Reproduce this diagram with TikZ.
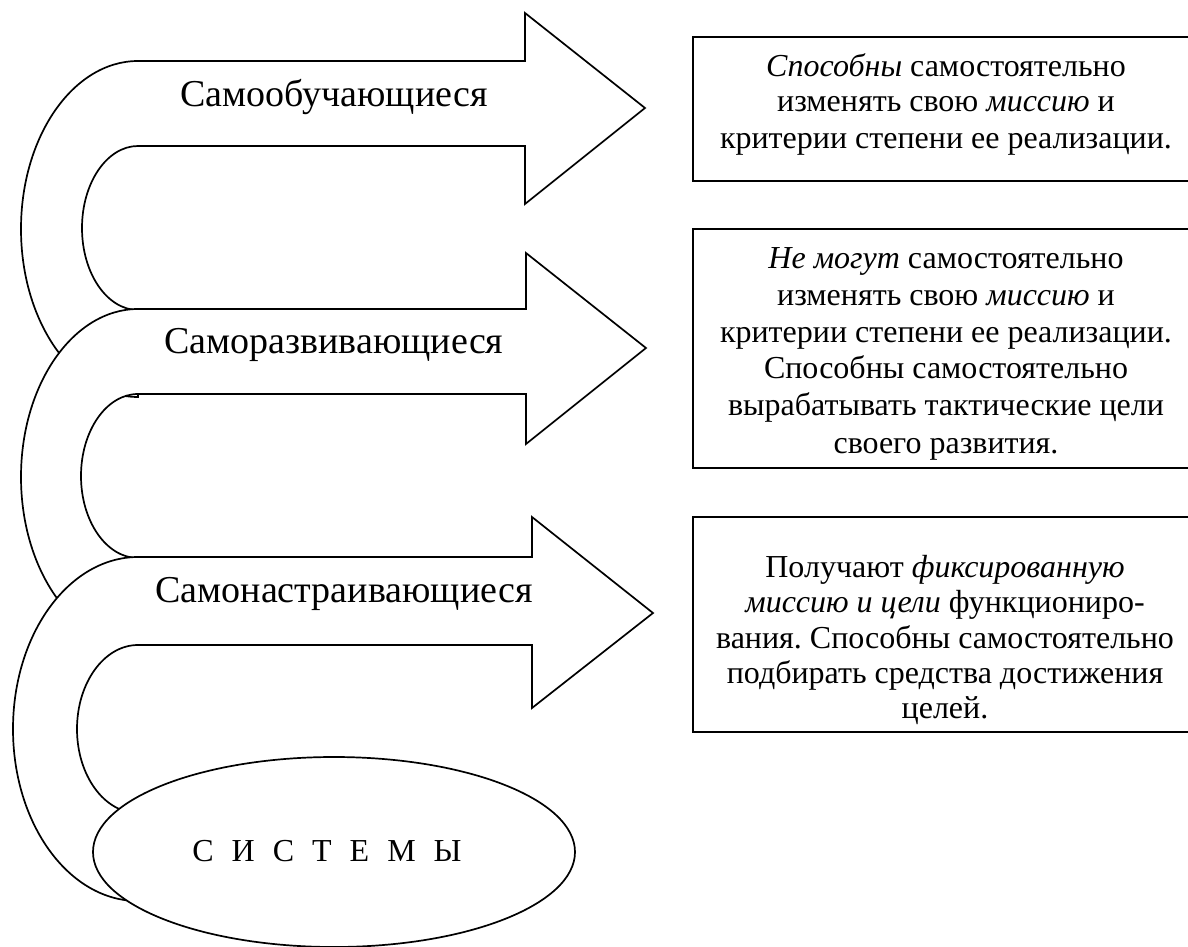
\documentclass[tikz,border=0pt]{standalone}
\usepackage{fontspec}
\setmainfont{Liberation Serif}
\frenchspacing
\begin{document}
\begin{tikzpicture}[x=1pt,y=1pt,
  uturn/.style={draw, fill=white, line width=1.7pt, line join=miter},
  boxline/.style={draw, line width=2pt},
  oval/.style={draw, fill=white, line width=1.7pt},
  lbl/.style={anchor=base, inner sep=0pt, font=\fontsize{38}{44}\selectfont},
  txt/.style={anchor=base, inner sep=0pt, font=\fontsize{32}{36}\selectfont}]
\clip (0,0) rectangle (1188,-947);
\fill[white] (0,0) rectangle (1188,-947);

% U-turn arrows, drawn from top to bottom so that each one covers the tail of the one above
\draw[uturn] (138,-397) arc[start angle=270, end angle=90, x radius=117, y radius=168]
  -- (525,-61) -- (525,-13) -- (645,-108) -- (525,-204) -- (525,-146) -- (138,-146)
  arc[start angle=90, end angle=270, x radius=56, y radius=82] -- cycle;
\node[lbl] (l1) at (334,-107) {Самообучающиеся};

\draw[uturn] (138,-645) arc[start angle=270, end angle=90, x radius=117, y radius=168]
  -- (526,-309) -- (526,-253) -- (646,-348) -- (526,-444) -- (526,-394) -- (138,-394)
  arc[start angle=90, end angle=270, x radius=57, y radius=82] -- cycle;
\node[lbl] (l2) at (334,-353) {Саморазвивающиеся};

\draw[uturn] (138,-901) arc[start angle=270, end angle=90, x radius=125, y radius=172]
  -- (532,-557) -- (532,-517) -- (653,-613) -- (532,-708) -- (532,-645) -- (138,-645)
  arc[start angle=90, end angle=270, x radius=61, y radius=84] -- cycle;
\node[lbl] (l3) at (344,-602) {Самонастраивающиеся};

% the base ellipse
\draw[oval] (334,-852) ellipse[x radius=241, y radius=95];
\node[txt] (sys) at (327,-861) {С\hspace{10pt} И\hspace{10pt} С\hspace{10pt} Т\hspace{10pt} Е\hspace{10pt} М\hspace{10pt} Ы};

% description boxes
\draw[boxline] (693,-37) rectangle (1200,-181);
\node[txt] (a1) at (946,-77) {\textit{Способны} самостоятельно};
\node[txt] (a2) at (946,-112) {изменять свою \textit{миссию} и};
\node[txt] (a3) at (946,-148) {критерии степени ее реализации.};

\draw[boxline] (693,-229) rectangle (1200,-468);
\node[txt] (b1) at (946,-268) {\textit{Не могут} самостоятельно};
\node[txt] (b2) at (946,-305) {изменять свою \textit{миссию} и};
\node[txt] (b3) at (946,-342) {критерии степени ее реализации.};
\node[txt] (b4) at (946,-378) {Способны самостоятельно};
\node[txt] (b5) at (946,-415) {вырабатывать тактические цели};
\node[txt] (b6) at (946,-453) {своего развития.};

\draw[boxline] (693,-517) rectangle (1200,-732);
\node[txt] (c1) at (945,-577) {Получают \textit{фиксированную}};
\node[txt] (c2) at (945,-612) {\textit{миссию и цели} функциониро-};
\node[txt] (c3) at (945,-648) {вания. Способны самостоятельно};
\node[txt] (c4) at (945,-683) {подбирать средства достижения};
\node[txt] (c5) at (945,-718) {целей.};
\end{tikzpicture}
\end{document}
